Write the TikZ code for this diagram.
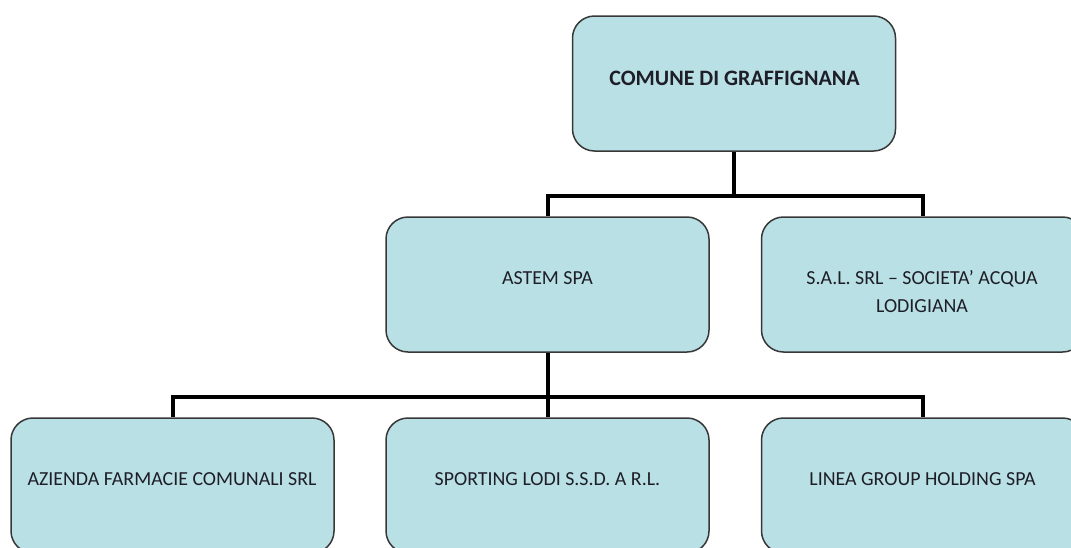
\documentclass[tikz,border=0pt]{standalone}
\usepackage{fontspec}
\setmainfont{Carlito}
\definecolor{boxfill}{RGB}{185,224,228}
\definecolor{boxline}{RGB}{55,55,55}
\definecolor{txt}{RGB}{30,30,40}
\begin{document}
\begin{tikzpicture}[x=1pt,y=-1pt,
  orgbox/.style={draw=boxline,line width=1.5pt,fill=boxfill,rounded corners=22pt,
    minimum width=323pt,minimum height=135pt,inner sep=0pt},
  lbl/.style={font=\fontsize{19.9}{28}\selectfont,text=txt,align=center,inner sep=0pt},
  conn/.style={line width=4pt,black,line join=miter}]
\useasboundingbox (0,0) rectangle (1071,547);
% boxes
\node[orgbox] (top) at (734,83.5) {};
\node[orgbox] (astem) at (547.5,284.5) {};
\node[orgbox] (sal) at (923,284.5) {};
\node[orgbox] (azienda) at (172.5,485.5) {};
\node[orgbox] (sport) at (547.5,485.5) {};
\node[orgbox] (linea) at (923,485.5) {};
% texts
\node[lbl,font=\fontsize{22}{28}\selectfont\bfseries,anchor=center] (ttop) at (734.5,78) {COMUNE DI GRAFFIGNANA};
\node[lbl,anchor=center] (tastem) at (547.5,278) {ASTEM SPA};
\node[lbl,anchor=center] (tsal) at (922,292) {S.A.L. SRL – SOCIETA’ ACQUA\\LODIGIANA};
\node[lbl,anchor=center] (tazienda) at (172,479) {AZIENDA FARMACIE COMUNALI SRL};
\node[lbl,anchor=center] (tsport) at (547.5,479) {SPORTING LODI S.S.D. A R.L.};
\node[lbl,anchor=center] (tlinea) at (922.5,479) {LINEA GROUP HOLDING SPA};
% junctions
\coordinate (j1) at (734,195.5);
\coordinate (j2) at (547.5,397);
% connectors
\draw[conn] (top.south) -- (j1);
\draw[conn] (astem.north) |- (j1);
\draw[conn] (sal.north) |- (j1);
\draw[conn] (astem.south) -- (sport.north);
\draw[conn] (azienda.north) |- (j2);
\draw[conn] (linea.north) |- (j2);
\end{tikzpicture}
\end{document}
